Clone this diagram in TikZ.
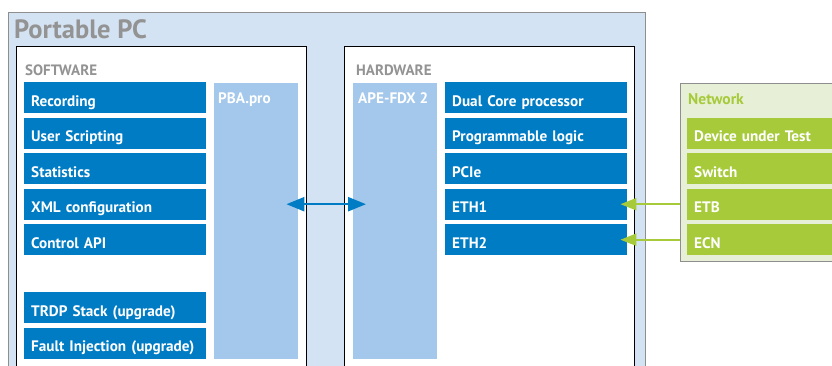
\documentclass[tikz,border=0pt]{standalone}
\usepackage{fontspec}
\setmainfont{PT Sans}
\usetikzlibrary{arrows.meta,calc}
\definecolor{pcfill}{HTML}{D4E3F3}
\definecolor{pcborder}{HTML}{8E8E8E}
\definecolor{titlegrey}{HTML}{939393}
\definecolor{dblue}{HTML}{007CC4}
\definecolor{lblue}{HTML}{A3C8EB}
\definecolor{lgreen}{HTML}{A6CA3A}
\definecolor{netfill}{HTML}{E7F0D6}
\begin{document}
\begin{tikzpicture}[x=1pt,y=-1pt,
  boxtext/.style={font=\bfseries\fontsize{15.2}{15}\selectfont},
  blockbox/.style={boxtext, text=white, anchor=north west, minimum height=31pt,
    text width=168pt, inner xsep=7pt, inner ysep=0pt, text height=17pt, text depth=0pt},
  bluebox/.style={blockbox, fill=dblue},
  greenbox/.style={blockbox, fill=lgreen, text width=200pt},
  column/.style={fill=lblue, anchor=north west, inner sep=0pt, minimum width=84pt, minimum height=276pt},
  coltext/.style={boxtext, text=white, anchor=base west, inner sep=0pt},
  panel/.style={draw=black, line width=0.8pt, fill=white, anchor=north west, inner sep=0pt},
  heading/.style={font=\bfseries\fontsize{15}{15}\selectfont, text=titlegrey, anchor=base west, inner sep=0pt},
  barrow/.style={draw=dblue, line width=2.4pt, {Triangle[length=18pt,width=14pt]}-{Triangle[length=18pt,width=14pt]}},
  garrow/.style={draw=lgreen, line width=2pt, -{Triangle[length=16pt,width=12pt]}}
]
\clip (0,0) rectangle (832,365);
\fill[white] (0,0) rectangle (832,365);
% outer portable PC
\node[draw=pcborder, line width=1.6pt, fill=pcfill, anchor=north west, inner sep=0pt,
  minimum width=637pt, minimum height=380pt] (pc) at (7.5,11.5) {};
\node[font=\bfseries\fontsize{26.5}{27}\selectfont, text=titlegrey, anchor=base west, inner sep=0pt] (pct) at (14,38) {Portable PC};
% software panel
\node[panel, minimum width=290pt, minimum height=340pt] (sw) at (16,46) {};
\node[heading] (swt) at (25,75) {SOFTWARE};
\node[bluebox] (rec) at (24,82) {Recording};
\node[bluebox] (usr) at (24,117.5) {User Scripting};
\node[bluebox] (sta) at (24,153) {Statistics};
\node[bluebox] (xml) at (24,188.5) {XML configuration};
\node[bluebox] (api) at (24,224) {Control API};
\node[bluebox] (trdp) at (24,292) {TRDP Stack (upgrade)};
\node[bluebox] (fault) at (24,327.5) {Fault Injection (upgrade)};
\node[column] (pba) at (214,83) {};
\node[coltext] (pbat) at (218,103) {PBA.pro};
% hardware panel
\node[panel, minimum width=290pt, minimum height=340pt] (hw) at (344,46) {};
\node[heading] (hwt) at (356,75) {HARDWARE};
\node[column] (ape) at (353,83) {};
\node[coltext] (apet) at (358,103) {APE-FDX 2};
\node[bluebox] (cpu) at (445,82) {Dual Core processor};
\node[bluebox] (pl) at (445,117.5) {Programmable logic};
\node[bluebox] (pcie) at (445,153) {PCIe};
\node[bluebox] (eth1) at (445,188.5) {ETH1};
\node[bluebox] (eth2) at (445,224) {ETH2};
% network
\node[draw=pcborder, line width=0.8pt, fill=netfill, anchor=north west, inner sep=0pt,
  minimum width=200pt, minimum height=178pt] (net) at (680,83) {};
\node[heading, text=lgreen, font=\bfseries\fontsize{15.5}{15}\selectfont] (nett) at (688,104) {Network};
\node[greenbox] (dut) at (687,117.5) {Device under Test};
\node[greenbox] (swi) at (687,153) {Switch};
\node[greenbox] (etb) at (687,188.5) {ETB};
\node[greenbox] (ecn) at (687,224) {ECN};
% connectors
\draw[barrow] ([xshift=-12pt]pba.east |- xml.center) -- ([xshift=13pt]ape.west |- xml.center);
\draw[garrow] (net.west |- etb.center) -- ([xshift=-7pt]eth1.east);
\draw[garrow] (net.west |- ecn.center) -- ([xshift=-7pt]eth2.east);
\end{tikzpicture}
\end{document}
